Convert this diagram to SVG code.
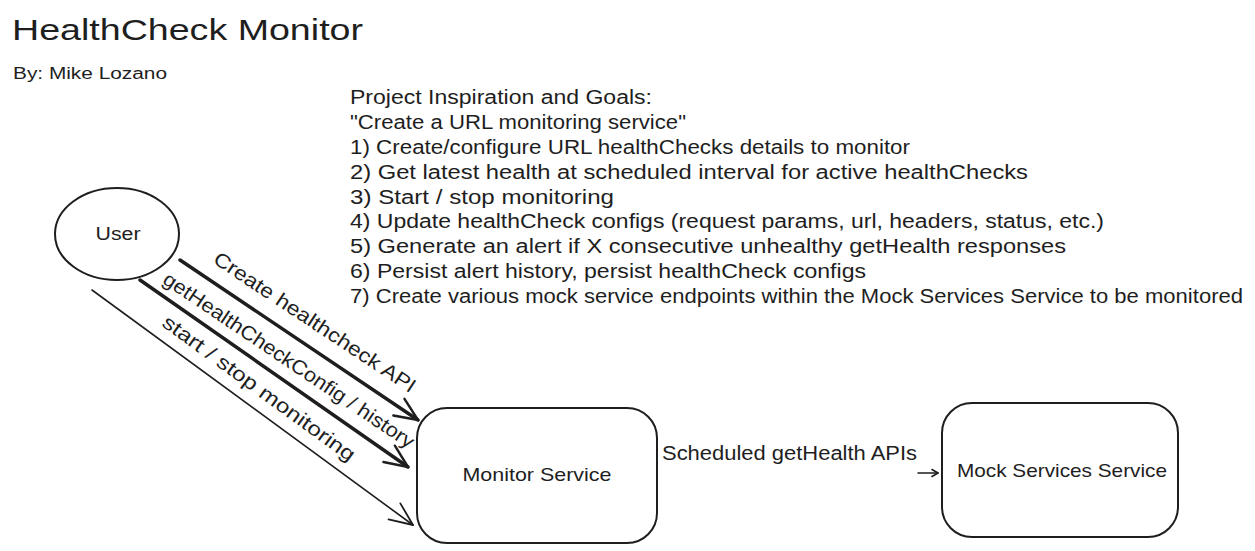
<svg xmlns="http://www.w3.org/2000/svg" width="1255" height="551" viewBox="0 0 1255 551">
  <style>
    text { font-family: "Liberation Sans", "DejaVu Sans", sans-serif; fill: #1e1e1e; }
    .shape { fill: none; stroke: #1e1e1e; stroke-width: 2; stroke-linejoin: round; }
    .note { font-size: 20px; }
    .label { font-size: 20px; }
    .edge { fill: none; stroke: #1e1e1e; stroke-linecap: round; }
    .thick { stroke-width: 3.5; }
    .thin { stroke-width: 1.6; }
  </style>
  <defs>
    <marker id="headThick" markerUnits="userSpaceOnUse" viewBox="-30 -15 35 30" markerWidth="35" markerHeight="30" refX="0" refY="0" orient="auto">
      <path d="M -23 -10 L 0 0 L -23 10" fill="none" stroke="#1e1e1e" stroke-width="2.4" stroke-linecap="round" stroke-linejoin="round"/>
    </marker>
    <marker id="headThin" markerUnits="userSpaceOnUse" viewBox="-30 -15 35 30" markerWidth="35" markerHeight="30" refX="0" refY="0" orient="auto">
      <path d="M -23 -10 L 0 0 L -23 10" fill="none" stroke="#1e1e1e" stroke-width="1.8" stroke-linecap="round" stroke-linejoin="round"/>
    </marker>
    <marker id="headSmall" markerUnits="userSpaceOnUse" viewBox="-10 -6 12 12" markerWidth="12" markerHeight="12" refX="0" refY="0" orient="auto">
      <path d="M -6 -3.5 L 0 0 L -6 3.5" fill="none" stroke="#1e1e1e" stroke-width="1.6" stroke-linecap="round" stroke-linejoin="round"/>
    </marker>
  </defs>
  <rect width="1255" height="551" fill="#ffffff"/>

  <g id="title">
    <text x="12" y="40" font-size="30" textLength="351" lengthAdjust="spacingAndGlyphs">HealthCheck Monitor</text>
    <text x="13" y="79" font-size="16" textLength="154" lengthAdjust="spacingAndGlyphs">By: Mike Lozano</text>
  </g>

  <g id="goals" class="note">
    <text x="350" y="104" textLength="302" lengthAdjust="spacingAndGlyphs">Project Inspiration and Goals:</text>
    <text x="350" y="129" textLength="336" lengthAdjust="spacingAndGlyphs">"Create a URL monitoring service"</text>
    <text x="350" y="154" textLength="560" lengthAdjust="spacingAndGlyphs">1) Create/configure URL healthChecks details to monitor</text>
    <text x="350" y="179" textLength="678" lengthAdjust="spacingAndGlyphs">2) Get latest health at scheduled interval for active healthChecks</text>
    <text x="350" y="204" textLength="264" lengthAdjust="spacingAndGlyphs">3) Start / stop monitoring</text>
    <text x="350" y="228" textLength="754" lengthAdjust="spacingAndGlyphs">4) Update healthCheck configs (request params, url, headers, status, etc.)</text>
    <text x="350" y="253" textLength="716" lengthAdjust="spacingAndGlyphs">5) Generate an alert if X consecutive unhealthy getHealth responses</text>
    <text x="350" y="278" textLength="516" lengthAdjust="spacingAndGlyphs">6) Persist alert history, persist healthCheck configs</text>
    <text x="350" y="303" textLength="893" lengthAdjust="spacingAndGlyphs">7) Create various mock service endpoints within the Mock Services Service to be monitored</text>
  </g>

  <g id="node-user">
    <ellipse class="shape" cx="117" cy="234" rx="62" ry="46"/>
    <text x="118" y="240" font-size="18" text-anchor="middle" textLength="45" lengthAdjust="spacingAndGlyphs">User</text>
  </g>

  <g id="node-monitor">
    <rect class="shape" x="417" y="408" width="240" height="135" rx="30" ry="30"/>
    <text x="537" y="481" font-size="19" text-anchor="middle" textLength="149" lengthAdjust="spacingAndGlyphs">Monitor Service</text>
  </g>

  <g id="node-mock">
    <rect class="shape" x="942" y="403" width="236" height="134" rx="30" ry="30"/>
    <text x="1062" y="477" font-size="19" text-anchor="middle" textLength="210" lengthAdjust="spacingAndGlyphs">Mock Services Service</text>
  </g>

  <g id="connectors">
    <path class="edge thick" d="M 180 260 L 418 420" marker-end="url(#headThick)"/>
    <path class="edge thick" d="M 140 280 L 408 467" marker-end="url(#headThick)"/>
    <path class="edge thin" d="M 92 290 L 413 525" marker-end="url(#headThin)"/>
    <path class="edge thin" d="M 918 473 L 938 473" marker-end="url(#headSmall)"/>
    <text class="label" transform="translate(315 322) rotate(33.5)" text-anchor="middle" dominant-baseline="central" textLength="238" lengthAdjust="spacingAndGlyphs">Create healthcheck API</text>
    <text class="label" transform="translate(289 360) rotate(34)" text-anchor="middle" dominant-baseline="central" textLength="298" lengthAdjust="spacingAndGlyphs">getHealthCheckConfig / history</text>
    <text class="label" transform="translate(259 388) rotate(36)" text-anchor="middle" dominant-baseline="central" textLength="233" lengthAdjust="spacingAndGlyphs">start / stop monitoring</text>
    <text class="label" x="662" y="460" textLength="255" lengthAdjust="spacingAndGlyphs">Scheduled getHealth APIs</text>
  </g>
</svg>
